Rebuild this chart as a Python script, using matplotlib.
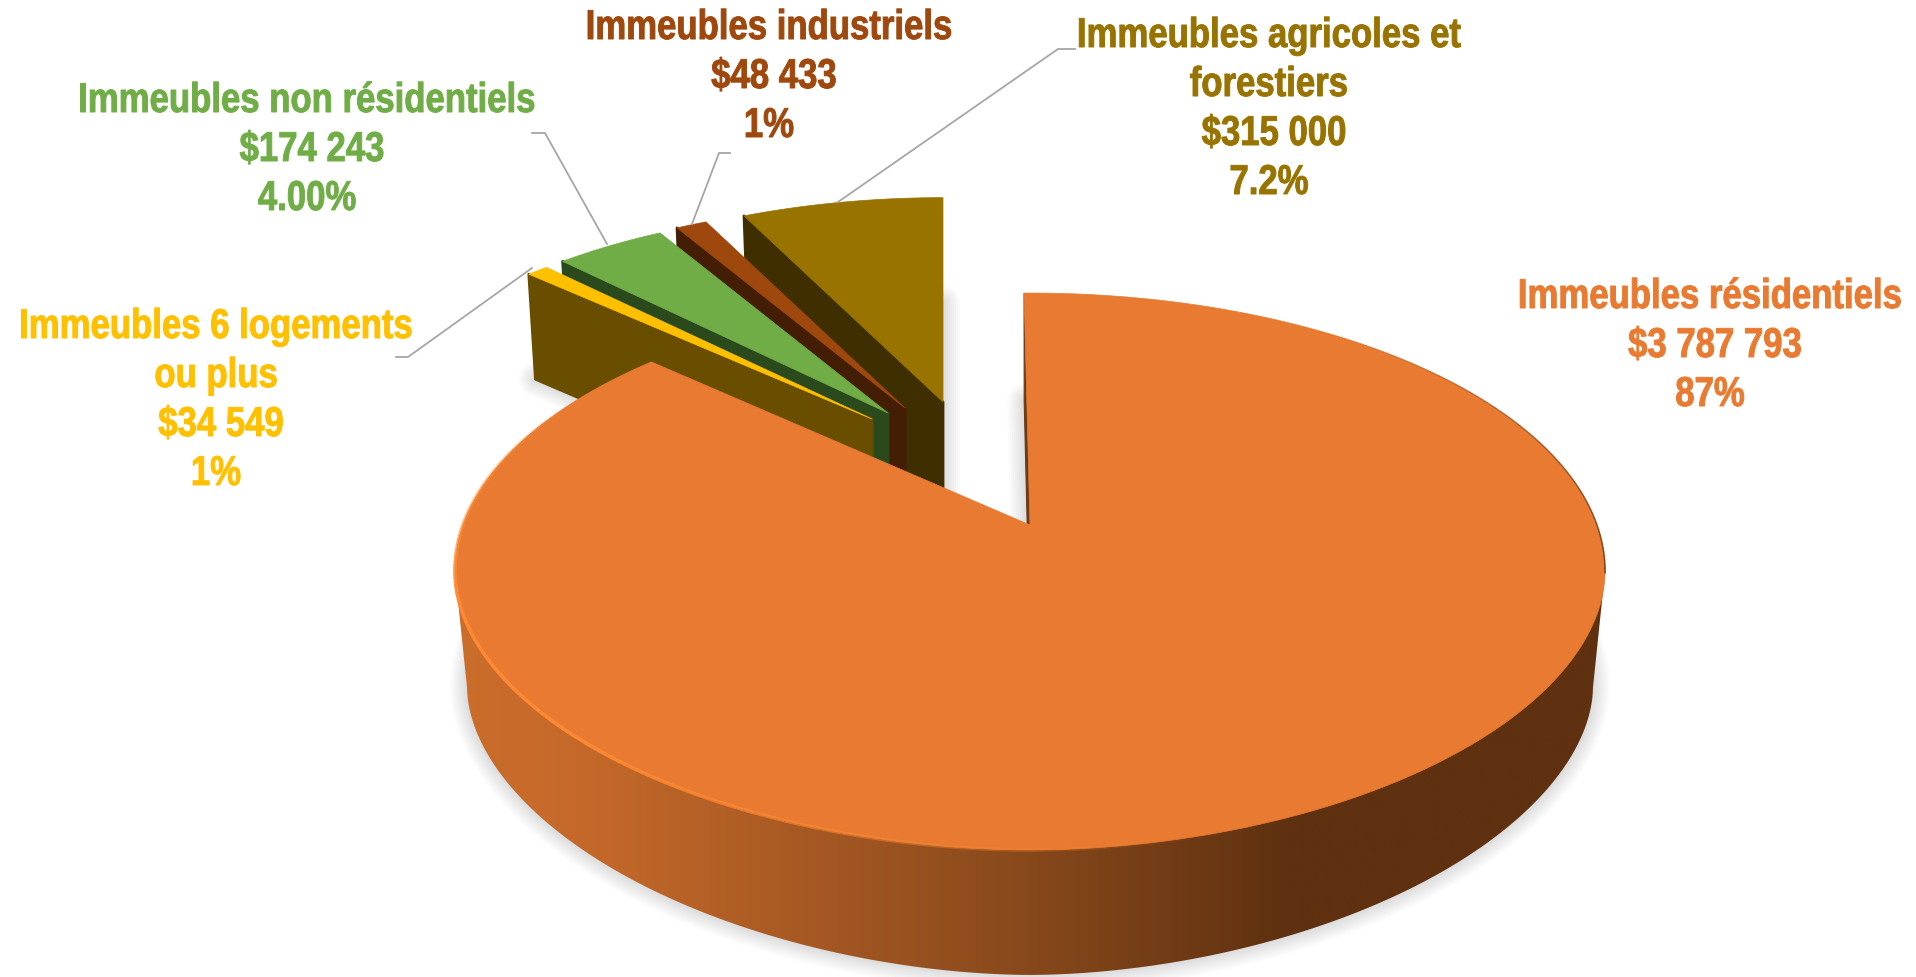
import matplotlib
matplotlib.use("Agg")
import matplotlib.pyplot as plt
import numpy as np
from matplotlib.collections import LineCollection
from matplotlib.colors import LinearSegmentedColormap
from matplotlib.patches import Polygon
from matplotlib.patheffects import AbstractPathEffect
from matplotlib.transforms import Affine2D

# data, clockwise from the top of the pie
categories = [["Immeubles résidentiels"], ["Immeubles 6 logements", "ou plus"], ["Immeubles non résidentiels"],
              ["Immeubles industriels"], ["Immeubles agricoles et", "forestiers"]]
values = [3787793, 34549, 174243, 48433, 315000]
percent_labels = ["87%", "1%", "4.00%", "1%", "7.2%"]

# styles
top_colors = ["#E87B31", "#FFC000", "#70AD47", "#9E480E", "#997300"]
wall_colors = ["#6B3A17", "#6A4E00", "#2B4A1C", "#441D05", "#3F2F00"]

# layout in pixels: top apex of each slice, its thickness and where the labels go
apex_top = [(1030, 525), (872, 419), (888, 413), (905, 408), (943, 402)]
thickness = [115, 105, 105, 105, 105]
label_x = [1710, 216, 307, 769, 1269]
label_y = [308, 338, 112, 39, 47]
line_step = 49
amount_shift = 5
leaders = [None,
           [(396, 357), (408, 357), (532, 268)],
           [(532, 133), (545, 133), (607, 244)],
           [(730, 153), (719, 153), (692, 224)],
           [(1075, 49), (1058, 49), (838, 202)]]

# perspective of the disc plane: (a, b, k, p), p < 2 pulls the front rim in a little
main_top = (567, 270.7, 0.167, 1.93)
main_bottom = (555, 279, 0.167, 1.85)
back_top = (515, 235, 0.15, 2)
back_bottom = (505, 235, 0.15, 2)
start_main = -0.7
font_size = 25
stretch = 1.2


def project(theta, apex, persp, radius=1.0):
    # theta in degrees, clockwise from north
    a, b, k, p = persp
    x = radius * np.sin(np.radians(theta))
    y = radius * np.cos(np.radians(theta))
    dx = a * x / (1 + k * y)
    dy = -b * y / (1 + k * y)
    # front half of the rim, relative to the widest point of the outline
    cy = b * k / (1 - k ** 2)
    semi_x = a / np.sqrt(1 - k ** 2)
    semi_y = b / (1 - k) - cy
    front = dy > cy
    u = np.abs(dx) / semi_x
    v = np.abs(dy - cy) / semi_y
    f = np.where(front, radius * (u ** p + v ** p) ** (-1 / p), 1.0)
    return np.column_stack([apex[0] + dx * f, apex[1] + cy + (dy - cy) * f])


def wedge_points(t1, t2, apex, persp):
    arc = project(np.linspace(t1, t2, 200), apex, persp)
    return np.vstack([[apex], arc])


class TallBold(AbstractPathEffect):
    # stretches glyphs up from the baseline and thickens them, no condensed bold is installed
    def __init__(self, base_y, scale, width):
        super().__init__()
        self.base_y = base_y
        self.scale = scale
        self.width = width

    def draw_path(self, renderer, gc, tpath, affine, rgbFace=None):
        tall = Affine2D().translate(0, -self.base_y).scale(1, self.scale).translate(0, self.base_y)
        gc0 = renderer.new_gc()
        gc0.copy_properties(gc)
        gc0.set_linewidth(self.width)
        gc0.set_foreground(rgbFace)
        gc0.set_joinstyle("round")
        renderer.draw_path(gc0, tpath, affine + tall, rgbFace)
        gc0.restore()


plt.rcParams["font.family"] = ["Liberation Sans"]
fig = plt.figure(figsize=(19.16, 9.77), dpi=100)
ax = fig.add_axes([0, 0, 1, 1])
ax.set_xlim(0, 1916)
ax.set_ylim(977, 0)
ax.axis("off")

spans = np.array(values) / sum(values) * 360
ends = np.cumsum(spans)
starts = ends - spans

# soft shadows below everything
for i in range(len(values)):
    bot_p = main_bottom if i == 0 else back_bottom
    ax_b = (apex_top[i][0], apex_top[i][1] + thickness[i])
    shift = start_main if i == 0 else 0
    pts = wedge_points(starts[i] + shift, ends[i] + shift, ax_b, bot_p)
    for w in np.linspace(2, 34, 9):
        ax.add_patch(Polygon(pts, closed=True, fill=False, edgecolor=(0, 0, 0, 0.014),
                             lw=w * 0.72, joinstyle="round", zorder=1))

# exploded slices, back to front
z = 2
for i in [4, 3, 2, 1]:
    apex = apex_top[i]
    apex_b = (apex[0], apex[1] + thickness[i])
    outer_t = project(starts[i], apex, back_top)[0]
    outer_b = project(starts[i], apex_b, back_bottom)[0]
    ax.add_patch(Polygon([apex, outer_t, outer_b, apex_b], closed=True, facecolor=wall_colors[i],
                         edgecolor=wall_colors[i], lw=2, joinstyle="round", zorder=z))
    ax.add_patch(Polygon(wedge_points(starts[i], ends[i], apex, back_top), closed=True,
                         facecolor=top_colors[i], edgecolor=top_colors[i], lw=0.5, zorder=z + 1))
    z += 2

# main slice: wall with a horizontal gradient, then top face
apex = apex_top[0]
apex_b = (apex[0], apex[1] + thickness[0])
t_left = 270 - np.degrees(np.arcsin(main_top[2]))
t_right = 90 + np.degrees(np.arcsin(main_top[2]))
bottom_arc = project(np.linspace(t_left, t_right, 400), apex_b, main_bottom)
top_ends = project(np.array([t_right, t_left]), apex, main_top)
wall_patch = Polygon(np.vstack([bottom_arc, top_ends]), closed=True, facecolor="none", edgecolor="none", zorder=z)
ax.add_patch(wall_patch)
cmap = LinearSegmentedColormap.from_list("wall", [(0, "#CB6D2B"), (0.12, "#C4682A"), (0.48, "#8A4A1C"),
                                                  (0.72, "#5F3110"), (1, "#5F3110")])
img = ax.imshow(np.linspace(0, 1, 600).reshape(1, -1), cmap=cmap, vmin=0, vmax=1, aspect="auto",
                extent=(455, 1612, 977, 500), zorder=z)
img.set_clip_path(wall_patch)
ax.set_xlim(0, 1916)
ax.set_ylim(977, 0)

t0 = start_main
outer_t = project(t0, apex, main_top)[0]
outer_b = project(t0, apex_b, main_bottom)[0]
ax.add_patch(Polygon([apex, outer_t, outer_b, apex_b], closed=True, facecolor=wall_colors[0],
                     edgecolor=wall_colors[0], lw=0.8, zorder=z))
ax.add_patch(Polygon(wedge_points(t0, ends[0] + start_main, apex, main_top), closed=True,
                     facecolor=top_colors[0], edgecolor=top_colors[0], lw=0.5, zorder=z + 1))

# lighter rim at front left, thin dark rim at upper right
rim = project(np.linspace(300, 165, 200), apex, main_top)
segs = np.stack([rim[:-1], rim[1:]], axis=1)
alpha = np.minimum(np.linspace(0, 3, len(segs)), np.linspace(2.2, 0, len(segs))).clip(0, 1)
ax.add_collection(LineCollection(segs, colors=[(1.0, 0.54, 0.2, a) for a in alpha], linewidths=2.6, zorder=z + 2))
rim = project(np.linspace(35, 100, 120), apex, main_top)
segs = np.stack([rim[:-1], rim[1:]], axis=1)
alpha = np.linspace(0, 0.85, len(segs))
ax.add_collection(LineCollection(segs, colors=[(0.37, 0.19, 0.06, a) for a in alpha], linewidths=1.1, zorder=z + 2))

# leader lines and labels
for line in leaders:
    if line is not None:
        xs, ys = zip(*line)
        ax.plot(xs, ys, color="#A6A6A6", lw=1.3, zorder=z + 3, solid_joinstyle="miter")

for i, name in enumerate(categories):
    amount = "$" + f"{values[i]:,}".replace(",", " ")
    lines = name + [amount, percent_labels[i]]
    for n, line in enumerate(lines):
        x = label_x[i] + (amount_shift if line == amount else 0)
        y = label_y[i] + n * line_step
        ax.text(x, y, line, color=top_colors[i], fontsize=font_size, fontweight="bold", ha="center", va="baseline",
                zorder=z + 4, path_effects=[TallBold(977 - y, stretch, 0.7)])

fig.savefig("out.png", dpi=100)
